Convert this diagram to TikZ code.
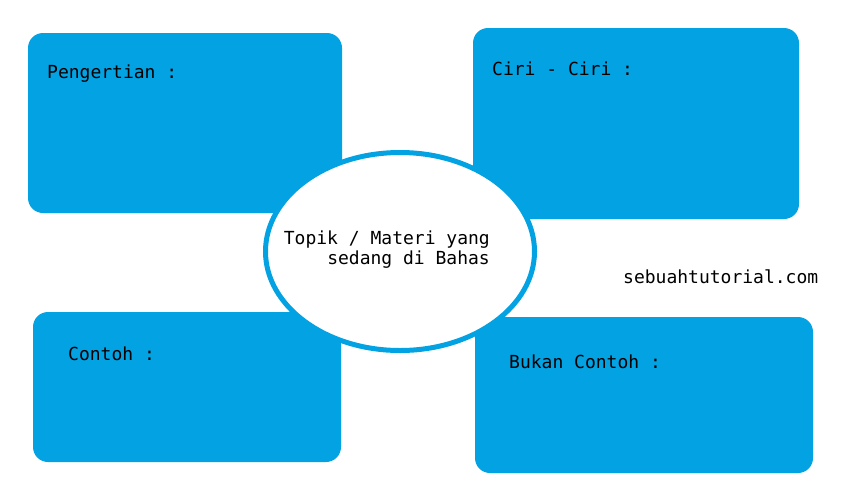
\documentclass[tikz,border=0pt]{standalone}
\usepackage{fontspec}
\setmonofont{DejaVu Sans Mono}
\usetikzlibrary{shapes.geometric}
\definecolor{kotak}{RGB}{3,162,227}

\begin{document}
\begin{tikzpicture}[x=1pt, y=-1pt,
        kotakbox/.style={rectangle, fill=kotak, rounded corners=15pt, inner sep=0pt},
        tulisan/.style={anchor=base west, inner sep=0pt, font=\ttfamily\fontsize{18}{19.5}\selectfont}]
        \useasboundingbox (0,0) rectangle (851,493);

        \node[kotakbox, minimum width=314pt, minimum height=180pt] (pengertian) at (185, 123) {};
        \node[kotakbox, minimum width=326pt, minimum height=191pt] (ciri) at (636, 123.5) {};
        \node[kotakbox, minimum width=308pt, minimum height=150pt] (contoh) at (187, 387) {};
        \node[kotakbox, minimum width=338pt, minimum height=156pt] (bukan) at (644, 395) {};

        \node[ellipse, draw=kotak, line width=5pt, fill=white, minimum width=269pt, minimum height=198pt] (topik) at (400, 251.5) {};

        \node[tulisan] (t1) at (47, 78) {Pengertian :};
        \node[tulisan] (t2) at (492, 75) {Ciri - Ciri :};
        \node[tulisan] (t3) at (68, 360) {Contoh :};
        \node[tulisan] (t4) at (509, 368) {Bukan Contoh :};
        \node[tulisan] (web) at (623, 283) {sebuahtutorial.com};
        \node[tulisan, anchor=north east, align=right] (t5) at (490, 231) {Topik / Materi yang\\sedang di Bahas};
    \end{tikzpicture}
\end{document}
